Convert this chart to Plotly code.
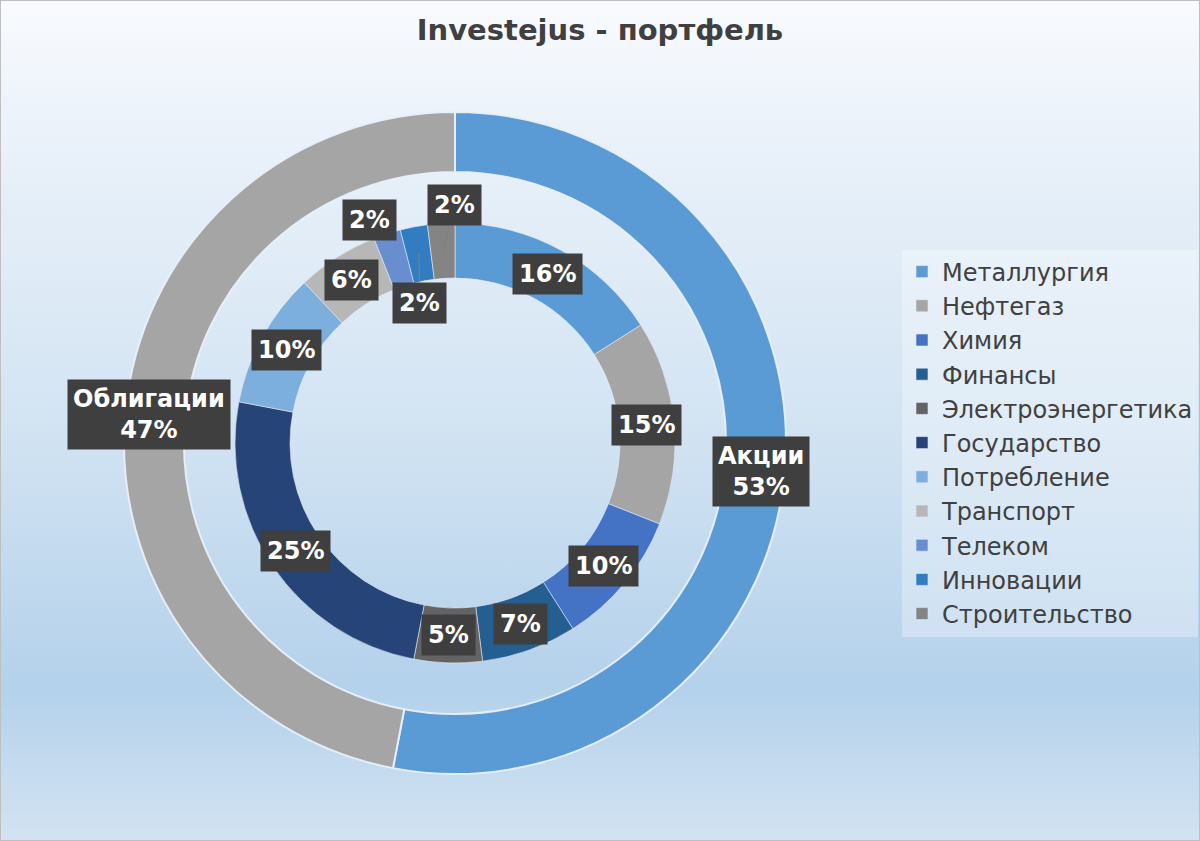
import base64
import math
import plotly.graph_objects as go

# ---------------- data ----------------
title_text = "Investejus - портфель"

outer_labels = ["Акции", "Облигации"]
outer_values = [53, 47]
outer_colors = ["#5B9BD5", "#A5A5A5"]

sector_labels = ["Металлургия", "Нефтегаз", "Химия", "Финансы", "Электроэнергетика",
                 "Государство", "Потребление", "Транспорт", "Телеком", "Инновации",
                 "Строительство"]
sector_values = [16, 15, 10, 7, 5, 25, 10, 6, 2, 2, 2]
sector_colors = ["#5B9BD5", "#A5A5A5", "#4472C4", "#255E91", "#636363",
                 "#264478", "#7CAFDD", "#B7B7B7", "#698ED0", "#327DC2", "#848484"]

# ---------------- geometry (pixels) ----------------
W, H = 1200, 841
CX, CY = 455, 443
R_OUT, R_OUT_HOLE = 331, 271
R_IN, R_IN_HOLE = 220, 165

FONT = "DejaVu Sans"
TXT = "#404040"


def domain(r):
    return dict(x=[(CX - r) / W, (CX + r) / W],
                y=[(H - CY - r) / H, (H - CY + r) / H])


def mid_points(values, radius):
    total = float(sum(values))
    pts, cum = [], 0.0
    for v in values:
        a = (cum + v / 2.0) / total * 2 * math.pi
        cum += v
        pts.append((CX + radius * math.sin(a), CY - radius * math.cos(a)))
    return pts


fig = go.Figure()

fig.add_trace(go.Pie(
    labels=outer_labels, values=outer_values, sort=False, direction="clockwise",
    rotation=0, hole=R_OUT_HOLE / R_OUT, domain=domain(R_OUT),
    marker=dict(colors=outer_colors, line=dict(color="rgba(232,240,249,0.95)", width=2)),
    textinfo="none", showlegend=False, hoverinfo="label+percent",
))

fig.add_trace(go.Pie(
    labels=sector_labels, values=sector_values, sort=False, direction="clockwise",
    rotation=0, hole=R_IN_HOLE / R_IN, domain=domain(R_IN),
    marker=dict(colors=sector_colors, line=dict(color="rgba(225,235,246,0.6)", width=1)),
    textinfo="none", showlegend=True, hoverinfo="label+percent",
))

# ---------------- labels ----------------
lab_font = dict(family=FONT, size=24, color="white", weight="bold")
annotations = []

outer_pts = mid_points(outer_values, (R_OUT + R_OUT_HOLE) / 2)
for (px, py), lab, v in zip(outer_pts, outer_labels, outer_values):
    annotations.append(dict(
        x=px / W, y=1 - py / H, xref="paper", yref="paper",
        xanchor="center", yanchor="middle",
        text=f"{lab}<br>{v}%", showarrow=False, font=lab_font,
        bgcolor="#3F3F3F", borderpad=5, align="center",
        xshift=-6 if px < CX else 6, yshift=0,
    ))

inner_pts = mid_points(sector_values, (R_IN + R_IN_HOLE) / 2)
# label offsets (pixels) for the small slices, as in the original chart
offsets = {8: (-26, -40, False), 9: (1, 49, True), 10: (12, -46, True)}
for i, ((px, py), v) in enumerate(zip(inner_pts, sector_values)):
    base = dict(x=px / W, y=1 - py / H, xref="paper", yref="paper",
                xanchor="center", yanchor="middle",
                text=f"{v}%", font=lab_font, bgcolor="#3F3F3F", borderpad=6)
    if i in offsets:
        dx, dy, arrow = offsets[i]
        if arrow:
            base.update(showarrow=True, ax=dx, ay=dy, arrowhead=0,
                        arrowwidth=1, arrowcolor="#7F7F7F", standoff=0)
        else:
            base.update(showarrow=False, xshift=dx, yshift=-dy)
    else:
        base.update(showarrow=False)
    annotations.append(base)

# ---------------- background gradient ----------------
svg = (
    f'<svg xmlns="http://www.w3.org/2000/svg" width="{W}" height="{H}" preserveAspectRatio="none">'
    '<defs><linearGradient id="g" x1="0" y1="0" x2="0" y2="1">'
    '<stop offset="0" stop-color="#F9FBFE"/>'
    '<stop offset="0.15" stop-color="#EBF2FA"/>'
    '<stop offset="0.5" stop-color="#D3E4F3"/>'
    '<stop offset="0.82" stop-color="#B4D1EB"/>'
    '<stop offset="1" stop-color="#D3E3F2"/>'
    '</linearGradient></defs>'
    '<rect width="100%" height="100%" fill="url(#g)"/></svg>'
)
bg_src = "data:image/svg+xml;base64," + base64.b64encode(svg.encode("utf-8")).decode("ascii")

fig.update_layout(
    width=W, height=H, autosize=False,
    margin=dict(l=0, r=0, t=0, b=0),
    paper_bgcolor="#D3E4F3",
    font=dict(family=FONT, color=TXT),
    title=dict(text=title_text, x=0.5, xanchor="center", y=1 - 30 / H, yanchor="middle",
               font=dict(family=FONT, size=29, color=TXT, weight="bold")),
    legend=dict(x=902 / W, xanchor="left", y=1 - 443 / H, yanchor="middle",
                bgcolor="rgba(255,255,255,0.3)", borderwidth=0,
                font=dict(family=FONT, size=24, color=TXT),
                traceorder="normal"),
    images=[dict(source=bg_src, xref="paper", yref="paper", x=0, y=1, sizex=1, sizey=1,
                 xanchor="left", yanchor="top", sizing="stretch", layer="below")],
    shapes=[dict(type="rect", xref="paper", yref="paper", x0=0, y0=0, x1=1, y1=1,
                 line=dict(color="#BFBFBF", width=2), fillcolor="rgba(0,0,0,0)")],
    annotations=annotations,
)

fig.write_html("out.html",
               config={"displayModeBar": False},
               post_script="document.body.style.margin='0';document.body.style.overflow='hidden';")
